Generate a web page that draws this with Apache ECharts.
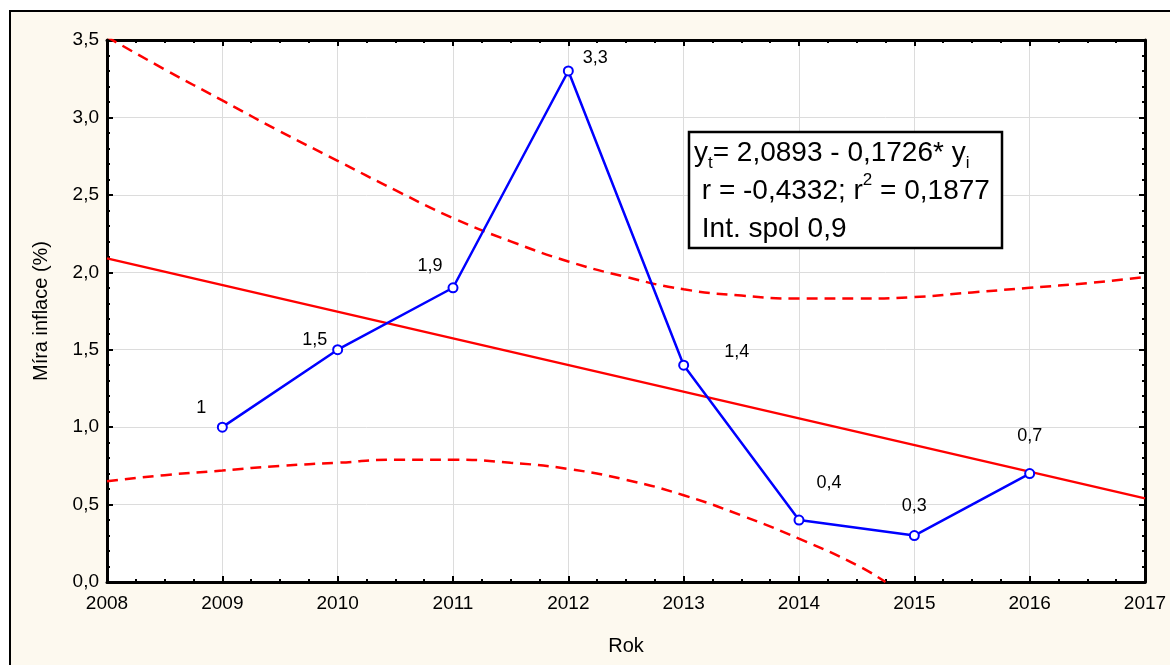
<!DOCTYPE html>
<html>
<head>
<meta charset="utf-8">
<script src="https://cdn.jsdelivr.net/npm/echarts@6/dist/echarts.min.js"></script>
<style>
html,body{margin:0;padding:0;background:#fff;}
#chart{width:1170px;height:665px;}
</style>
</head>
<body>
<div id="chart"></div>
<script>
// ---- data ----
const years = [2009, 2010, 2011, 2012, 2013, 2014, 2015, 2016];
const inflation = [1.0, 1.5, 1.9, 3.3, 1.4, 0.4, 0.3, 0.7];

const trendYears = [2008, 2017];
const trendValues = [2.09, 0.54];

const upperYears = [2008, 2008.5, 2009, 2009.5, 2010, 2010.5, 2011, 2011.5, 2012, 2012.5, 2013, 2013.5, 2014, 2014.5, 2015, 2015.5, 2016, 2016.5, 2017];
const upperBand = [3.52, 3.31, 3.11, 2.91, 2.72, 2.53, 2.35, 2.20, 2.07, 1.97, 1.89, 1.85, 1.83, 1.83, 1.84, 1.87, 1.90, 1.93, 1.97];

const lowerYears = [2008, 2008.5, 2009, 2009.5, 2010, 2010.5, 2011, 2011.5, 2012, 2012.5, 2013, 2013.5, 2014, 2014.5, 2014.75];
const lowerBand = [0.65, 0.69, 0.72, 0.75, 0.77, 0.79, 0.79, 0.77, 0.73, 0.66, 0.56, 0.43, 0.28, 0.11, 0.0];

const xTicks = [2008, 2017, 1];      // min, max, step
const yTicks = [0, 3.5, 0.5];

const xTitle = 'Rok';
const yTitle = 'Míra inflace (%)';
const boxLines = ['2,0893 - 0,1726* y', 'r = -0,4332; r', ' = 0,1877', 'Int. spol 0,9'];

// ---- chart ----
const FONT = '"Liberation Sans", Arial, sans-serif';
const comma = v => String(v).replace('.', ',');
const labelOffsets = [[-21, -19], [-23, -10], [-23, -22], [27, -13], [53, -13], [30, -37], [0, -30], [0, -38]];

const pair = (xs, ys) => xs.map((x, i) => [x, ys[i]]);

const baseX = {
  type: 'value', min: xTicks[0], max: xTicks[1], interval: xTicks[2],
  axisLine: { show: true, onZero: false, lineStyle: { color: '#000', width: 3 } },
  axisTick: { show: true, inside: true, length: 6, lineStyle: { color: '#000', width: 2 } },
  minorTick: { show: true, splitNumber: 4, length: 3, lineStyle: { color: '#000', width: 2 } },
  minorSplitLine: { show: false }
};
const baseY = {
  type: 'value', min: yTicks[0], max: yTicks[1], interval: yTicks[2],
  axisLine: { show: true, onZero: false, lineStyle: { color: '#000', width: 3 } },
  axisTick: { show: true, inside: true, length: 6, lineStyle: { color: '#000', width: 2 } },
  minorTick: { show: true, splitNumber: 5, length: 3, lineStyle: { color: '#000', width: 2 } },
  minorSplitLine: { show: false }
};

const chart = echarts.init(document.getElementById('chart'), null, { renderer: 'canvas' });
chart.setOption({
  animation: false,
  backgroundColor: '#ffffff',
  textStyle: { fontFamily: FONT },
  grid: { left: 107, right: 25, top: 40, bottom: 83, show: true, backgroundColor: '#ffffff', borderWidth: 0 },
  xAxis: [
    Object.assign({}, baseX, {
      position: 'bottom',
      name: xTitle, nameLocation: 'middle', nameGap: 54,
      nameTextStyle: { color: '#000', fontSize: 20, fontFamily: FONT },
      axisLabel: { show: true, color: '#000', fontSize: 19, fontFamily: FONT, margin: 12,
        formatter: v => String(Math.round(v)), showMinLabel: true, showMaxLabel: true },
      splitLine: { show: true, lineStyle: { color: '#dcdcdc', width: 1 } }
    }),
    Object.assign({}, baseX, {
      position: 'top', axisLabel: { show: false }, splitLine: { show: false }
    })
  ],
  yAxis: [
    Object.assign({}, baseY, {
      position: 'left',
      name: yTitle, nameLocation: 'middle', nameGap: 56, nameRotate: 90,
      nameTextStyle: { color: '#000', fontSize: 20, fontFamily: FONT },
      axisLabel: { show: true, color: '#000', fontSize: 19, fontFamily: FONT, margin: 8,
        formatter: v => v.toFixed(1).replace('.', ','), showMinLabel: true, showMaxLabel: true },
      splitLine: { show: true, lineStyle: { color: '#dcdcdc', width: 1 } }
    }),
    Object.assign({}, baseY, {
      position: 'right', axisLabel: { show: false }, splitLine: { show: false }
    })
  ],
  graphic: [
    {
      type: 'rect', z: -10, silent: true,
      shape: { x: 10, y: 11, width: 1180, height: 680 },
      style: { fill: '#fdf9ef', stroke: '#000', lineWidth: 2 }
    },
    {
      type: 'rect', z: 10, silent: true,
      shape: { x: 689, y: 132, width: 313, height: 116 },
      style: { fill: '#fff', stroke: '#000', lineWidth: 2.5 }
    },
    {
      type: 'text', z: 11, silent: true,
      x: 694, y: 134,
      style: {
        text: '{n|y}{s|t}{n|= ' + boxLines[0] + '}{s|i}\n{n| ' + boxLines[1] + '}{p|2}{n|' + boxLines[2] + '}\n{n| ' + boxLines[3] + '}',
        fill: '#000',
        font: '28px ' + FONT,
        rich: {
          n: { fontSize: 28, lineHeight: 38, fontFamily: FONT, fill: '#000', color: '#000' },
          s: { fontSize: 17, lineHeight: 22, verticalAlign: 'bottom', fontFamily: FONT, fill: '#000', color: '#000' },
          p: { fontSize: 17, lineHeight: 29, verticalAlign: 'top', fontFamily: FONT, fill: '#000', color: '#000' }
        }
      }
    }
  ],
  series: [
    {
      type: 'line', name: 'upper', xAxisIndex: 0, yAxisIndex: 0,
      data: pair(upperYears, upperBand), smooth: true, symbol: 'none', clip: true,
      lineStyle: { color: '#ff0000', width: 2.5, type: [11, 7] }, z: 3
    },
    {
      type: 'line', name: 'lower', xAxisIndex: 0, yAxisIndex: 0,
      data: pair(lowerYears, lowerBand), smooth: true, symbol: 'none', clip: true,
      lineStyle: { color: '#ff0000', width: 2.5, type: [11, 7] }, z: 3
    },
    {
      type: 'line', name: 'trend', xAxisIndex: 0, yAxisIndex: 0,
      data: pair(trendYears, trendValues), symbol: 'none', clip: true,
      lineStyle: { color: '#ff0000', width: 2.5 }, z: 4
    },
    {
      type: 'line', name: 'inflace', xAxisIndex: 0, yAxisIndex: 0,
      data: years.map((y, i) => ({
        value: [y, inflation[i]],
        label: { offset: labelOffsets[i] }
      })),
      symbol: 'circle', symbolSize: 9, showAllSymbol: true,
      itemStyle: { color: '#fff', borderColor: '#0000ff', borderWidth: 2 },
      lineStyle: { color: '#0000ff', width: 2.5 },
      label: {
        show: true, position: 'inside', color: '#000', fontSize: 18, fontFamily: FONT,
        formatter: p => comma(p.value[1])
      },
      z: 5
    }
  ]
});
</script>
</body>
</html>
